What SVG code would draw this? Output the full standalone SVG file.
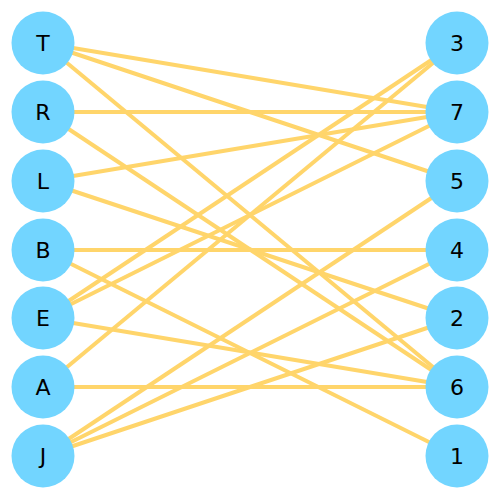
<svg xmlns="http://www.w3.org/2000/svg" width="500" height="500" viewBox="0 0 500 500">
<style>
.e{stroke:#FFD56B;stroke-width:4;fill:none}
.n circle{fill:#72D5FF}
.n text{font-family:"DejaVu Sans",sans-serif;font-size:22px;fill:#000;text-anchor:middle;dominant-baseline:central}
</style>
<rect width="500" height="500" fill="#fff"/>
<g id="connectors">
<line class="e" x1="43" y1="43" x2="457" y2="112"/>
<line class="e" x1="43" y1="43" x2="457" y2="181"/>
<line class="e" x1="43" y1="43" x2="457" y2="387"/>
<line class="e" x1="43" y1="112" x2="457" y2="112"/>
<line class="e" x1="43" y1="112" x2="457" y2="387"/>
<line class="e" x1="43" y1="181" x2="457" y2="112"/>
<line class="e" x1="43" y1="181" x2="457" y2="318"/>
<line class="e" x1="43" y1="250" x2="457" y2="250"/>
<line class="e" x1="43" y1="250" x2="457" y2="456"/>
<line class="e" x1="43" y1="318" x2="457" y2="43"/>
<line class="e" x1="43" y1="318" x2="457" y2="112"/>
<line class="e" x1="43" y1="318" x2="457" y2="387"/>
<line class="e" x1="43" y1="387" x2="457" y2="43"/>
<line class="e" x1="43" y1="387" x2="457" y2="387"/>
<line class="e" x1="43" y1="456" x2="457" y2="181"/>
<line class="e" x1="43" y1="456" x2="457" y2="250"/>
<line class="e" x1="43" y1="456" x2="457" y2="318"/>
</g>
<g id="T" class="n"><circle cx="43" cy="43" r="31.5"/><text x="43" y="43">T</text></g>
<g id="R" class="n"><circle cx="43" cy="112" r="31.5"/><text x="43" y="112">R</text></g>
<g id="L" class="n"><circle cx="43" cy="181" r="31.5"/><text x="43" y="181">L</text></g>
<g id="B" class="n"><circle cx="43" cy="250" r="31.5"/><text x="43" y="250">B</text></g>
<g id="E" class="n"><circle cx="43" cy="318" r="31.5"/><text x="43" y="318">E</text></g>
<g id="A" class="n"><circle cx="43" cy="387" r="31.5"/><text x="43" y="387">A</text></g>
<g id="J" class="n"><circle cx="43" cy="456" r="31.5"/><text x="43" y="456">J</text></g>
<g id="n3" class="n"><circle cx="457" cy="43" r="31.5"/><text x="457" y="43">3</text></g>
<g id="n7" class="n"><circle cx="457" cy="112" r="31.5"/><text x="457" y="112">7</text></g>
<g id="n5" class="n"><circle cx="457" cy="181" r="31.5"/><text x="457" y="181">5</text></g>
<g id="n4" class="n"><circle cx="457" cy="250" r="31.5"/><text x="457" y="250">4</text></g>
<g id="n2" class="n"><circle cx="457" cy="318" r="31.5"/><text x="457" y="318">2</text></g>
<g id="n6" class="n"><circle cx="457" cy="387" r="31.5"/><text x="457" y="387">6</text></g>
<g id="n1" class="n"><circle cx="457" cy="456" r="31.5"/><text x="457" y="456">1</text></g>
</svg>
